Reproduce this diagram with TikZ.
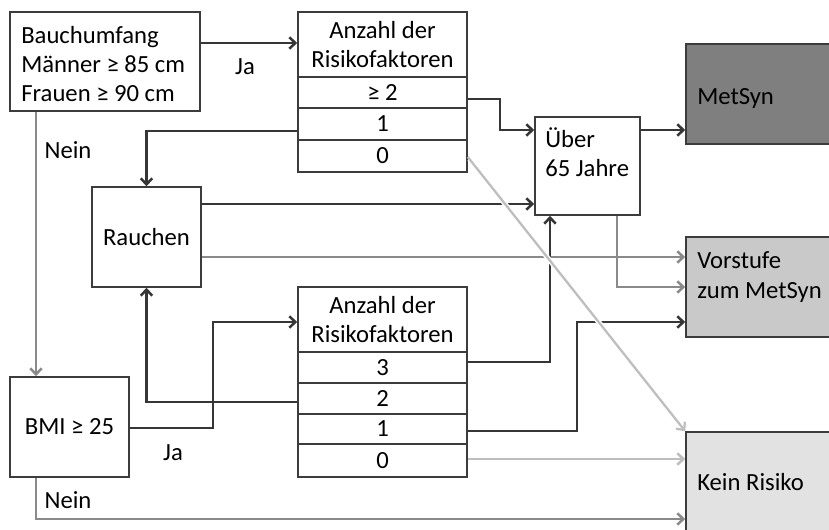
\documentclass[tikz,border=0pt]{standalone}
\usepackage{fontspec}
\setmainfont{Carlito}
\usetikzlibrary{arrows.meta}
\definecolor{dk}{HTML}{363636}
\definecolor{md}{HTML}{8A8A8A}
\definecolor{lt}{HTML}{BEBEBE}
\definecolor{bd}{HTML}{3C3C3C}
\definecolor{fillA}{HTML}{7F7F7F}
\definecolor{fillB}{HTML}{C9C9C9}
\definecolor{fillC}{HTML}{E2E2E2}
\newcommand\myfs{\fontsize{18.5}{22}\selectfont}
\tikzset{
  box/.style={draw=bd, line width=1.2pt, fill=white, inner sep=0pt, font=\myfs, align=center},
  cell/.style={box, minimum width=126.75pt},
  result/.style={box, minimum width=111.75pt, minimum height=75pt},
  txt/.style={font=\myfs, inner sep=0pt, align=left, anchor=west},
  lab/.style={font=\myfs, inner sep=0pt},
  conn/.style={line width=1.9pt, -{Straight Barb[length=4.5pt,width=8.5pt]}},
  dark/.style={conn, draw=dk},
  mid/.style={conn, draw=md},
  lite/.style={conn, draw=lt}
}
\begin{document}
\begin{tikzpicture}[x=0.75pt,y=-0.75pt]
\clip (0,0) rectangle (829,530);
\fill[white] (0,0) rectangle (829,530);

% boxes
\node[box, minimum width=142.5pt, minimum height=74.25pt] (bauch) at (105,61.5) {};
\node[txt] (tbauch) at (21,64) {Bauchumfang\\Männer ≥ 85 cm\\Frauen ≥ 90 cm};

\node[cell, minimum height=48.75pt] (t1h) at (382.5,44.5) {Anzahl der\\Risikofaktoren};
\node[cell, minimum height=23.25pt] (t1a) at (382.5,92.5) {≥ 2};
\node[cell, minimum height=24pt] (t1b) at (382.5,124) {1};
\node[cell, minimum height=24pt] (t1c) at (382.5,156) {0};

\node[box, minimum width=78.75pt, minimum height=73.5pt] (ueber) at (587.5,166) {};
\node[txt] (tueber) at (545,152) {Über\\65 Jahre};

\node[result, fill=fillA] (metsyn) at (760.5,94) {};
\node[txt] (tmetsyn) at (697,98) {MetSyn};

\node[box, minimum width=81.75pt, minimum height=75pt] (rauchen) at (146.5,237) {Rauchen};

\node[result, fill=fillB] (vorstufe) at (760.5,287) {};
\node[txt] (tvorstufe) at (697,277) {Vorstufe\\zum MetSyn};

\node[cell, minimum height=48.75pt] (t2h) at (382.5,319.5) {Anzahl der\\Risikofaktoren};
\node[cell, minimum height=23.25pt] (t2a) at (382.5,367.5) {3};
\node[cell, minimum height=23.25pt] (t2b) at (382.5,398.5) {2};
\node[cell, minimum height=22.5pt] (t2c) at (382.5,429) {1};
\node[cell, minimum height=24.75pt] (t2d) at (382.5,460.5) {0};

\node[box, minimum width=89.25pt, minimum height=75pt] (bmi) at (69.5,427) {BMI ≥ 25};

\node[result, fill=fillC, minimum height=77.25pt] (kein) at (760.5,483.5) {};
\node[txt] (tkein) at (697,482) {Kein Risiko};

% labels
\node[lab] (ja1) at (245,67) {Ja};
\node[lab] (nein1) at (68,150) {Nein};
\node[lab] (ja2) at (173,453) {Ja};
\node[lab] (nein2) at (68,500) {Nein};

% connectors
\draw[dark] (bauch.east |- 0,43) -- (t1h.west |- 0,43);
\draw[mid] (bauch.south -| 36,0) -- (bmi.north -| 36,0);
\draw[dark] (t1a.east |- 0,99) -- (500,99) -- (500,130) -- (ueber.west |- 0,130);
\draw[dark] (ueber.east |- 0,130) -- (metsyn.west |- 0,130);
\draw[dark] (t1b.west |- 0,131) -| (rauchen.north);
\draw[dark] (rauchen.east |- 0,204) -- (ueber.west |- 0,204);
\draw[mid] (rauchen.east |- 0,257) -- (vorstufe.west |- 0,257);
\draw[mid] (ueber.south -| 617,0) -- (617,287) -- (vorstufe.west |- 0,287);
\draw[dark] (t2a.east |- 0,362) -| (ueber.south -| 550,0);
\draw[dark] (t2b.west |- 0,402) -| (rauchen.south);
\draw[dark] (bmi.east |- 0,428) -- (213,428) -- (213,322) -- (t2h.west |- 0,322);
\draw[dark] (t2c.east |- 0,431) -- (577,431) -- (577,322) -- (vorstufe.west |- 0,322);
\draw[lite] (t2d.east |- 0,459) -- (kein.west |- 0,459);
\draw[mid] (bmi.south -| 36,0) -- (36,519) -- (kein.west |- 0,519);
\draw[white, line width=3.8pt, shorten >=5pt, shorten <=2pt] (t1c.east |- 0,157) -- (kein.north west);
\draw[lite, line width=1.7pt] (t1c.east |- 0,157) -- (kein.north west);
\end{tikzpicture}
\end{document}
